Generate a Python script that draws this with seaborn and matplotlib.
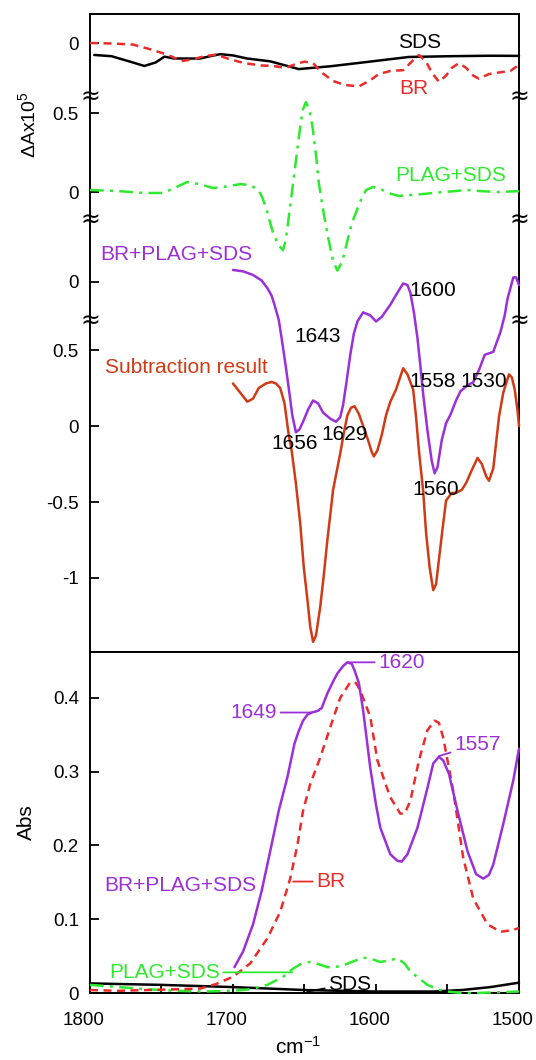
import numpy as np
import pandas as pd
import matplotlib
matplotlib.use("Agg")
import matplotlib.pyplot as plt
import matplotlib.transforms as mtransforms
import seaborn as sns

# ---------------- data (wavenumber, value) ----------------
# upper panel: difference spectra (DeltaA x 10^5)
sds_d_wn = [1797, 1785, 1772, 1762, 1754, 1748, 1741, 1732, 1723, 1716, 1709, 1700, 1690, 1674,
            1654, 1632, 1607, 1577, 1548, 1520, 1500]
sds_d_val = [-0.077, -0.085, -0.12, -0.148, -0.125, -0.088, -0.10, -0.10, -0.10, -0.085, -0.072,
             -0.08, -0.10, -0.118, -0.168, -0.15, -0.123, -0.09, -0.085, -0.082, -0.083]

br_d_wn = [1800, 1785, 1770, 1758, 1746, 1736, 1728, 1720, 1712, 1702, 1692, 1680, 1672, 1663,
           1656, 1650, 1644, 1638, 1630, 1622, 1612, 1604, 1598, 1590, 1581, 1575, 1570, 1565,
           1561, 1556, 1551, 1547, 1542, 1537, 1532, 1528, 1521, 1514, 1506, 1500]
br_d_val = [0.0, -0.003, -0.01, -0.04, -0.075, -0.116, -0.105, -0.085, -0.075, -0.105, -0.13,
            -0.145, -0.148, -0.16, -0.135, -0.12, -0.13, -0.19, -0.245, -0.27, -0.28, -0.24,
            -0.20, -0.18, -0.175, -0.12, -0.077, -0.12, -0.19, -0.25, -0.21, -0.16, -0.13,
            -0.16, -0.21, -0.23, -0.20, -0.19, -0.18, -0.14]

plag_d_wn = [1800, 1780, 1762, 1749, 1740, 1732, 1723, 1714, 1705, 1695, 1688, 1682, 1679.5, 1677,
             1674.5, 1672, 1668, 1665, 1663, 1661, 1658.5, 1656, 1653.5, 1651.3, 1649, 1646.5,
             1644.3, 1642, 1640, 1636.5, 1633, 1630, 1627, 1623.5, 1620, 1617, 1614, 1610.5,
             1607, 1602, 1596, 1590, 1584, 1570, 1560, 1545, 1537, 1525, 1514, 1500]
plag_d_val = [0.013, 0.006, -0.006, -0.006, 0.03, 0.064, 0.05, 0.025, 0.035, 0.05, 0.045, 0.01,
              -0.035, -0.095, -0.18, -0.26, -0.34, -0.37, -0.30, -0.16, 0.02, 0.20, 0.38, 0.52,
              0.573, 0.52, 0.41, 0.24, 0.057, -0.14, -0.31, -0.44, -0.50, -0.44, -0.31, -0.20,
              -0.13, -0.05, 0.013, 0.032, 0.015, -0.01, -0.025, -0.015, -0.006, 0.006, 0.013,
              0.005, 0.0, 0.006]

bps_d_wn = [1700, 1693, 1686, 1680, 1676, 1673, 1671, 1668, 1666, 1663.5, 1661, 1658.5, 1656,
            1653.5, 1651, 1647.5, 1644, 1640.5, 1637, 1632, 1628, 1625, 1623, 1620.5, 1618,
            1615.5, 1613, 1609, 1604, 1600, 1596, 1590, 1585, 1581, 1578, 1576, 1573.5, 1571,
            1569, 1567, 1564, 1561, 1559, 1557, 1554, 1551, 1548, 1544, 1541, 1536, 1532, 1528,
            1524, 1518, 1513, 1510, 1508, 1504, 1502, 1500]
bps_d_val = [0.079, 0.07, 0.046, 0.01, -0.04, -0.09, -0.15, -0.25, -0.37, -0.53, -0.70, -0.88,
             -0.99, -0.97, -0.92, -0.84, -0.78, -0.80, -0.86, -0.90, -0.92, -0.89, -0.81, -0.65,
             -0.48, -0.34, -0.26, -0.20, -0.22, -0.26, -0.23, -0.15, -0.07, -0.01, -0.02, -0.07,
             -0.20, -0.37, -0.55, -0.74, -0.98, -1.18, -1.26, -1.22, -1.04, -0.93, -0.875, -0.78,
             -0.72, -0.68, -0.66, -0.58, -0.48, -0.46, -0.33, -0.22, -0.11, 0.03, 0.03, -0.02]

sub_wn = [1700, 1695, 1690, 1686, 1682, 1677, 1673, 1670, 1667, 1664, 1661, 1659, 1656, 1653,
          1650.5, 1648, 1646, 1644, 1642, 1639, 1636.5, 1634, 1630, 1625, 1622, 1620, 1617.5,
          1615, 1612, 1609, 1606, 1603, 1601.5, 1599, 1596, 1593, 1590, 1586, 1581, 1578, 1574,
          1572, 1570, 1567, 1565, 1562.5, 1560, 1558, 1556, 1553.5, 1551, 1547, 1544, 1540,
          1537, 1533, 1529, 1526, 1523, 1521, 1518, 1514, 1511, 1507, 1505, 1503, 1501, 1500]
sub_val = [0.28, 0.22, 0.16, 0.18, 0.25, 0.28, 0.29, 0.28, 0.25, 0.15, -0.06, -0.16, -0.38,
           -0.64, -0.93, -1.14, -1.32, -1.42, -1.38, -1.19, -0.98, -0.75, -0.42, -0.18, -0.02,
           0.07, 0.12, 0.13, 0.08, 0.0, -0.08, -0.17, -0.20, -0.16, -0.06, 0.07, 0.16, 0.24,
           0.38, 0.34, 0.24, 0.06, -0.16, -0.43, -0.70, -0.93, -1.08, -1.04, -0.88, -0.68,
           -0.49, -0.44, -0.44, -0.42, -0.375, -0.29, -0.21, -0.25, -0.33, -0.36, -0.28, 0.06,
           0.22, 0.34, 0.32, 0.24, 0.10, 0.0]

# lower panel: absorbance
bps_a_wn = [1699, 1693, 1686, 1680, 1674, 1668, 1662, 1657, 1654, 1651, 1648, 1645, 1641, 1638,
            1634, 1630, 1627, 1623, 1620, 1617, 1615, 1612, 1609, 1604, 1600, 1597, 1590, 1585,
            1582, 1578, 1571, 1564, 1560, 1556, 1553, 1549, 1543, 1536, 1530, 1525, 1521, 1518,
            1511, 1504, 1500]
bps_a_val = [0.035, 0.056, 0.093, 0.138, 0.192, 0.247, 0.292, 0.338, 0.355, 0.369, 0.377, 0.380,
             0.382, 0.386, 0.406, 0.422, 0.433, 0.443, 0.448, 0.446, 0.437, 0.42, 0.383, 0.305,
             0.255, 0.224, 0.188, 0.179, 0.178, 0.188, 0.224, 0.278, 0.311, 0.320, 0.315, 0.297,
             0.247, 0.192, 0.161, 0.155, 0.160, 0.174, 0.229, 0.288, 0.331]

br_a_wn = [1800, 1780, 1760, 1740, 1723, 1712, 1700, 1688, 1676, 1667, 1660, 1655, 1651, 1646,
           1639, 1632, 1625, 1618, 1614, 1611, 1604, 1599, 1590, 1583, 1580, 1576, 1570, 1564,
           1559, 1556, 1553, 1546, 1539, 1532, 1522, 1513, 1505, 1500]
br_a_val = [0.004, 0.003, 0.004, 0.005, 0.006, 0.012, 0.022, 0.04, 0.074, 0.11, 0.155, 0.2,
            0.247, 0.283, 0.319, 0.36, 0.40, 0.421, 0.42, 0.41, 0.374, 0.315, 0.265, 0.243,
            0.243, 0.26, 0.315, 0.356, 0.369, 0.366, 0.346, 0.274, 0.183, 0.128, 0.093, 0.083,
            0.085, 0.088]

plag_a_wn = [1800, 1780, 1760, 1740, 1720, 1700, 1688, 1676, 1665, 1658, 1652, 1646, 1640, 1634,
             1625, 1617, 1609, 1603, 1597, 1591, 1585, 1580, 1576, 1570, 1564, 1557, 1550, 1540,
             1530, 1515, 1500]
plag_a_val = [0.011, 0.008, 0.005, 0.003, 0.002, 0.003, 0.005, 0.011, 0.022, 0.033, 0.04, 0.042,
              0.039, 0.035, 0.036, 0.042, 0.048, 0.046, 0.042, 0.044, 0.047, 0.04, 0.029, 0.02,
              0.011, 0.005, 0.002, 0.0, 0.0, 0.001, 0.002]

sds_a_wn = [1800, 1750, 1700, 1650, 1600, 1560, 1540, 1520, 1500]
sds_a_val = [0.013, 0.011, 0.008, 0.004, 0.002, 0.002, 0.004, 0.008, 0.014]

x_ticks = [1800, 1700, 1600, 1500]
x_minor = [1750, 1650, 1550]
abs_ticks = [0, 0.1, 0.2, 0.3, 0.4]

# ---------------- style ----------------
sns.set_theme(style="ticks")
plt.rcParams['font.family'] = ['Liberation Sans', 'DejaVu Sans']
plt.rcParams['mathtext.fontset'] = 'custom'
plt.rcParams['mathtext.rm'] = 'Liberation Sans'
plt.rcParams['mathtext.it'] = 'Liberation Sans'

PURPLE = "#9b30d9"
ORANGE = "#d03a14"
RED = "#ec2a2a"
GREEN = "#2eea2e"
BLACK = "black"
LW = 1.8
DASH = (0, (3.2, 2.2))
DASHDOT = (0, (5.5, 2.5, 1.2, 2.5))
FS_TICK = 13.5
FS_ANN = 15

W, H = 536, 1060
L, R = 90, 519


def pos(top, bottom):
    return [L / W, 1 - bottom / H, (R - L) / W, (bottom - top) / H]


fig = plt.figure(figsize=(W / 100, H / 100), dpi=100)

ax_sds = fig.add_axes(pos(14, 97))
ax_plag = fig.add_axes(pos(97, 220))
ax_bps = fig.add_axes(pos(220, 321))
ax_sub = fig.add_axes(pos(321, 652))
ax_abs = fig.add_axes(pos(652, 993))

upper = [ax_sds, ax_plag, ax_bps, ax_sub]
ylims = {ax_sds: (-0.348, 0.187), ax_plag: (-0.178, 0.605),
         ax_bps: (-0.257, 0.408), ax_sub: (-1.487, 0.691)}
yt = {ax_sds: [0], ax_plag: [0, 0.5], ax_bps: [0], ax_sub: [-1, -0.5, 0, 0.5]}

for ax in upper:
    ax.set_facecolor('none')
    ax.set_xlim(1800, 1500)
    ax.set_ylim(*ylims[ax])
    ax.set_yticks(yt[ax])
    ax.set_yticklabels([f"{v:g}" for v in yt[ax]])
    ax.tick_params(axis='y', direction='in', length=6.5, width=1.3, labelsize=FS_TICK,
                   pad=8, right=False, left=True, colors='black')
    ax.tick_params(axis='x', bottom=False, top=False, labelbottom=False)
    for s in ['top', 'bottom']:
        ax.spines[s].set_visible(False)
    for s in ['left', 'right']:
        ax.spines[s].set_linewidth(1.4)
        ax.spines[s].set_color('black')
ax_sds.spines['top'].set_visible(True)
ax_sds.spines['top'].set_linewidth(1.4)
ax_sds.spines['top'].set_color('black')
ax_sub.spines['bottom'].set_visible(True)
ax_sub.spines['bottom'].set_linewidth(1.4)
ax_sub.spines['bottom'].set_color('black')


def line(ax, wn, val, color, ls='-', z=3):
    df = pd.DataFrame({'wn': wn, 'val': val})
    sns.lineplot(data=df, x='wn', y='val', ax=ax, color=color, linewidth=LW, linestyle=ls,
                 errorbar=None, sort=False, clip_on=False, zorder=z)
    ax.set_xlabel('')
    ax.set_ylabel('')


line(ax_sds, sds_d_wn, sds_d_val, BLACK)
line(ax_sds, br_d_wn, br_d_val, RED, DASH)
line(ax_plag, plag_d_wn, plag_d_val, GREEN, DASHDOT)
line(ax_bps, bps_d_wn, bps_d_val, PURPLE)
line(ax_sub, sub_wn, sub_val, ORANGE)

for ax in upper:
    ax.set_xlim(1800, 1500)
    ax.set_ylim(*ylims[ax])

# upper annotations
ax_sds.text(1569.6, 0.006, "SDS", ha='center', va='center', fontsize=FS_ANN, color=BLACK)
ax_sds.text(1573.8, -0.29, "BR", ha='center', va='center', fontsize=FS_ANN, color=RED)
ax_plag.text(1547.6, 0.108, "PLAG+SDS", ha='center', va='center', fontsize=FS_ANN, color=GREEN)
ax_bps.text(1739.9, 0.178, "BR+PLAG+SDS", ha='center', va='center', fontsize=FS_ANN, color=PURPLE)
ax_bps.text(1640.9, -0.362, "1643", ha='center', va='center', fontsize=FS_ANN, color=BLACK)
ax_bps.text(1560.5, -0.053, "1600", ha='center', va='center', fontsize=FS_ANN, color=BLACK)
ax_sub.text(1732.5, 0.382, "Subtraction result", ha='center', va='center', fontsize=FS_ANN,
            color=ORANGE)
ax_sub.text(1656.6, -0.112, "1656", ha='center', va='center', fontsize=FS_ANN, color=BLACK)
ax_sub.text(1622.0, -0.059, "1629", ha='center', va='center', fontsize=FS_ANN, color=BLACK)
ax_sub.text(1560.5, 0.296, "1558", ha='center', va='center', fontsize=FS_ANN, color=BLACK)
ax_sub.text(1524.8, 0.296, "1530", ha='center', va='center', fontsize=FS_ANN, color=BLACK)
ax_sub.text(1558.4, -0.421, "1560", ha='center', va='center', fontsize=FS_ANN, color=BLACK)

# axis break marks
for yb in [97, 220, 321]:
    for xb in [L, R]:
        fig.text(xb / W, 1 - yb / H, "≈", ha='center', va='center', fontsize=17,
                 color='black', family=['DejaVu Sans'])

# ---------------- lower (absorbance) panel ----------------
ax_abs.set_facecolor('white')
line(ax_abs, sds_a_wn, sds_a_val, BLACK)
line(ax_abs, plag_a_wn, plag_a_val, GREEN, DASHDOT)
line(ax_abs, br_a_wn, br_a_val, RED, DASH)
line(ax_abs, bps_a_wn, bps_a_val, PURPLE)
ax_abs.set_xlim(1800, 1500)
ax_abs.set_ylim(0, 0.462)
ax_abs.set_xticks(x_ticks)
ax_abs.set_xticklabels([str(v) for v in x_ticks])
ax_abs.set_xticks(x_minor, minor=True)
ax_abs.set_yticks(abs_ticks)
ax_abs.set_yticklabels([f"{v:g}" for v in abs_ticks])
ax_abs.tick_params(axis='y', direction='in', length=6.5, width=1.3, labelsize=FS_TICK, pad=8,
                   colors='black')
ax_abs.tick_params(axis='x', which='both', direction='in', length=6.5, width=1.3,
                   labelsize=FS_TICK, pad=14, colors='black')
shift = mtransforms.ScaledTranslation(-6 / 100, 0, fig.dpi_scale_trans)
for lab in ax_abs.get_xticklabels():
    lab.set_transform(lab.get_transform() + shift)
for s in ax_abs.spines.values():
    s.set_linewidth(1.4)
    s.set_color('black')

ann_kw = dict(fontsize=FS_ANN, va='center', annotation_clip=False)


def lead(text, xy, xytext, color, ha):
    ax_abs.annotate(text, xy=xy, xytext=xytext, textcoords='data', color=color, ha=ha,
                    arrowprops=dict(arrowstyle='-', color=color, lw=1.3, shrinkA=0, shrinkB=0),
                    **ann_kw)


lead("1649", (1645.5, 0.38), (1669, 0.38), PURPLE, 'right')
lead("1620", (1619.5, 0.448), (1598.6, 0.448), PURPLE, 'left')
lead("1557", (1556, 0.321), (1545.5, 0.337), PURPLE, 'left')
lead("BR", (1658, 0.151), (1642, 0.151), RED, 'left')
lead("PLAG+SDS", (1658.5, 0.028), (1709, 0.028), GREEN, 'right')
lead("SDS", (1648, 0.002), (1633.6, 0.012), BLACK, 'left')
ax_abs.text(1737, 0.146, "BR+PLAG+SDS", ha='center', va='center', fontsize=FS_ANN, color=PURPLE)

# axis labels
fig.text(28 / W, 1 - 125 / H, r"$\Delta$Ax10$^5$", rotation=90, ha='center', va='center',
         fontsize=14, color='black')
fig.text(26 / W, 1 - 822 / H, "Abs", rotation=90, ha='center', va='center', fontsize=15,
         color='black')
fig.text(298 / W, 1 - 1047 / H, r"cm$^{-1}$", ha='center', va='center', fontsize=15,
         color='black')

fig.savefig("out.png", dpi=100)
